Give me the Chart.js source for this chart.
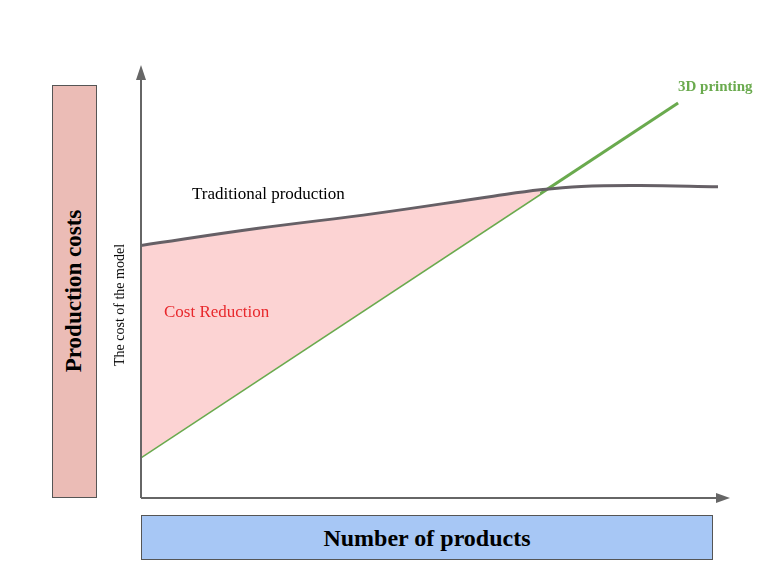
<!DOCTYPE html>
<html><head><meta charset="utf-8">
<script src="https://cdn.jsdelivr.net/npm/chart.js@4"></script>
<style>
body{margin:0;background:#fff;font-family:"Liberation Serif",serif}
#w{position:relative;width:777px;height:580px}
.t{position:absolute;white-space:nowrap}
</style></head><body>
<div id="w"><canvas id="c" width="777" height="580"></canvas>
<div class="t" style="left:52px;top:85px;width:45px;height:413px;background:#ebbcb6;border:1px solid #555;box-sizing:border-box"></div>
<div class="t" style="left:74px;top:291px;transform:translate(-50%,-50%) rotate(-90deg);font-weight:bold;font-size:23px">Production costs</div>
<div class="t" style="left:141px;top:515px;width:572px;height:45px;background:#a7c7f5;border:1px solid #555;box-sizing:border-box;text-align:center;line-height:45px;font-weight:bold;font-size:24px">Number of products</div>
<div class="t" style="left:120px;top:305px;transform:translate(-50%,-50%) rotate(-90deg);font-size:14px">The cost of the model</div>
<div class="t" style="left:192px;top:184px;font-size:17px">Traditional production</div>
<div class="t" style="left:164px;top:302px;font-size:17px;color:#e8282c">Cost Reduction</div>
<div class="t" style="left:678px;top:78px;font-size:15px;font-weight:bold;color:#6aaa4e">3D printing</div>
</div>
<script>
const xTrad=[0,20,40,60,68,75,85,98.3];
const yTrad=[59,63,66.5,70.5,72,72.8,73,72.7];
const x3d=[0,91.5];
const y3d=[9.6,92.3];
const xFill=[0,68];
const yFill=[9.6,71.1];
const pts=(xs,ys)=>xs.map((x,i)=>({x,y:ys[i]}));
const axes={id:'axes',afterDraw(ch){const c=ch.ctx,a=ch.chartArea;c.save();c.strokeStyle='#666';c.fillStyle='#666';c.lineWidth=2;
c.beginPath();c.moveTo(a.left,a.bottom);c.lineTo(a.left,a.top+8);c.moveTo(a.left,a.bottom);c.lineTo(a.right-8,a.bottom);c.stroke();
c.beginPath();c.moveTo(a.left,a.top-5);c.lineTo(a.left-5,a.top+10);c.lineTo(a.left+5,a.top+10);c.fill();
c.beginPath();c.moveTo(a.right+2,a.bottom);c.lineTo(a.right-12,a.bottom-5);c.lineTo(a.right-12,a.bottom+5);c.fill();c.restore();}};
new Chart(document.getElementById('c'),{type:'line',
data:{datasets:[
{data:pts(xTrad,yTrad),borderColor:'#666066',borderWidth:3,pointRadius:0,tension:0.4,fill:false},
{data:pts(xFill,yFill),borderWidth:0,borderColor:'rgba(0,0,0,0)',pointRadius:0,backgroundColor:'#fcd3d3',fill:{target:0}},
{data:pts(x3d,y3d),borderColor:'#6aaa4e',borderWidth:3,pointRadius:0,fill:false}
]},
options:{responsive:false,animation:false,layout:{padding:{left:141,right:49,top:70,bottom:82}},
plugins:{legend:{display:false},tooltip:{enabled:false}},
scales:{x:{type:'linear',min:0,max:100,display:false},y:{min:0,max:100,display:false}}},
plugins:[axes]});
</script></body></html>
